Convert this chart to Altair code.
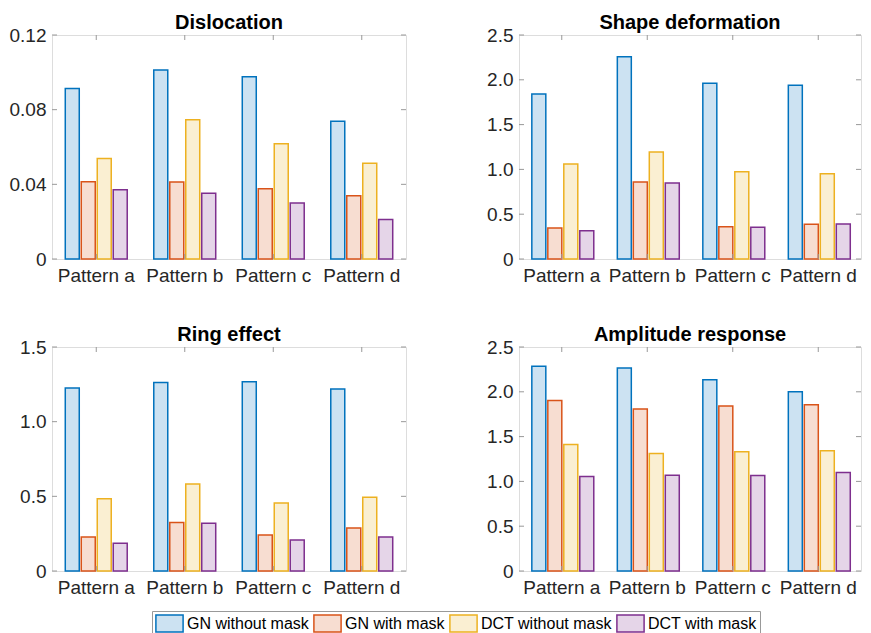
import altair as alt
import pandas as pd

patterns = ["Pattern a", "Pattern b", "Pattern c", "Pattern d"]
series = ["GN without mask", "GN with mask", "DCT without mask", "DCT with mask"]
edge_colors = ["#0072BD", "#D95319", "#EDB120", "#7E2F8E"]
fill_colors = ["#CCE2F2", "#F7DDD1", "#FAEFD2", "#E5D5E8"]

dislocation = {
    "GN without mask": [0.0914, 0.1013, 0.0977, 0.0738],
    "GN with mask": [0.0414, 0.0413, 0.0377, 0.0339],
    "DCT without mask": [0.0538, 0.0746, 0.0618, 0.0513],
    "DCT with mask": [0.0371, 0.0352, 0.0300, 0.0211],
}
shape_deformation = {
    "GN without mask": [1.842, 2.258, 1.961, 1.938],
    "GN with mask": [0.346, 0.859, 0.361, 0.387],
    "DCT without mask": [1.060, 1.194, 0.975, 0.952],
    "DCT with mask": [0.316, 0.848, 0.353, 0.391],
}
ring_effect = {
    "GN without mask": [1.225, 1.263, 1.268, 1.218],
    "GN with mask": [0.228, 0.324, 0.241, 0.288],
    "DCT without mask": [0.483, 0.583, 0.456, 0.494],
    "DCT with mask": [0.186, 0.320, 0.208, 0.228],
}
amplitude_response = {
    "GN without mask": [2.284, 2.265, 2.135, 2.001],
    "GN with mask": [1.904, 1.807, 1.841, 1.855],
    "DCT without mask": [1.412, 1.311, 1.330, 1.341],
    "DCT with mask": [1.054, 1.069, 1.066, 1.099],
}

ticks_dislocation = [0, 0.04, 0.08, 0.12]
ticks_shape = [0, 0.5, 1.0, 1.5, 2.0, 2.5]
ticks_ring = [0, 0.5, 1.0, 1.5]
ticks_amp = [0, 0.5, 1.0, 1.5, 2.0, 2.5]

FONT = "Liberation Sans"
BOX = "#999999"

legend = alt.Legend(
    title=None,
    orient="none",
    legendX=100,
    legendY=576,
    direction="horizontal",
    columns=4,
    symbolType="M-1.6,-1H1.6V1H-1.6Z",
    symbolSize=289,
    symbolStrokeWidth=1.5,
    symbolOffset=5,
    labelFont=FONT,
    labelFontSize=16,
    labelColor="#000000",
    labelOffset=8,
    columnPadding=1,
    strokeColor=BOX,
    fillColor="white",
    padding=3,
)


def panel(title, values, ticks, fmt, width, height):
    rows = []
    for s in series:
        for p, v in zip(patterns, values[s]):
            rows.append({"pattern": p, "series": s, "value": v})
    df = pd.DataFrame(rows)
    ymax = ticks[-1]
    yscale = alt.Scale(domain=[0, ymax], nice=False, zero=True)
    xscale = alt.Scale(domain=patterns, paddingInner=0.3, paddingOuter=0.15)

    bars = alt.Chart(df).mark_bar(strokeWidth=1.5).encode(
        x=alt.X(
            "pattern:N",
            sort=patterns,
            scale=xscale,
            axis=alt.Axis(
                title=None, labelAngle=0, ticks=False, domain=False,
                labelFont=FONT, labelFontSize=19, labelColor="#262626",
                labelPadding=7,
            ),
        ),
        xOffset=alt.XOffset(
            "series:N", sort=series,
            scale=alt.Scale(domain=series, paddingInner=0.125, paddingOuter=0),
        ),
        y=alt.Y(
            "value:Q",
            scale=yscale,
            axis=alt.Axis(
                title=None, values=ticks, grid=False, ticks=False, domain=False,
                labelExpr=f"datum.value == 0 ? '0' : format(datum.value, '{fmt}')",
                labelFont=FONT, labelFontSize=19, labelColor="#262626",
                labelPadding=6,
            ),
        ),
        fill=alt.Fill("series:N", sort=series,
                      scale=alt.Scale(domain=series, range=fill_colors), legend=legend),
        stroke=alt.Stroke("series:N", sort=series,
                          scale=alt.Scale(domain=series, range=edge_colors), legend=legend),
    )

    tdf = pd.DataFrame({"t": ticks})
    ytick_l = alt.Chart(tdf).mark_rule(color=BOX, strokeWidth=1).encode(
        y=alt.Y("t:Q", scale=yscale), x=alt.value(0), x2=alt.value(5))
    ytick_r = alt.Chart(tdf).mark_rule(color=BOX, strokeWidth=1).encode(
        y=alt.Y("t:Q", scale=yscale), x=alt.value(width - 5), x2=alt.value(width))
    pdf = pd.DataFrame({"pattern": patterns})
    xtick_t = alt.Chart(pdf).mark_rule(color=BOX, strokeWidth=1).encode(
        x=alt.X("pattern:N", sort=patterns, scale=xscale), y=alt.value(0), y2=alt.value(5))
    xtick_b = alt.Chart(pdf).mark_rule(color=BOX, strokeWidth=1).encode(
        x=alt.X("pattern:N", sort=patterns, scale=xscale), y=alt.value(height - 5), y2=alt.value(height))

    return alt.layer(bars, ytick_l, ytick_r, xtick_t, xtick_b).properties(
        width=width,
        height=height,
        title=alt.TitleParams(title, font=FONT, fontSize=20, fontWeight="bold",
                              color="#000000", offset=-7),
    )


p1 = panel("Dislocation", dislocation, ticks_dislocation, ".2f", 354, 224)
p2 = panel("Shape deformation", shape_deformation, ticks_shape, ".1f", 342, 224)
p3 = panel("Ring effect", ring_effect, ticks_ring, ".1f", 354, 224)
p4 = panel("Amplitude response", amplitude_response, ticks_amp, ".1f", 342, 224)

row1 = alt.hconcat(p1, p2, spacing=79)
row2 = alt.hconcat(p3, p4, spacing=79)

chart = alt.vconcat(row1, row2, spacing=38).properties(
    padding={"left": 0, "top": 4, "right": 0, "bottom": 0}
).configure_view(stroke=BOX, strokeWidth=1).configure(background="white")

chart.save("out.html", embed_options={"renderer": "svg", "actions": False})
